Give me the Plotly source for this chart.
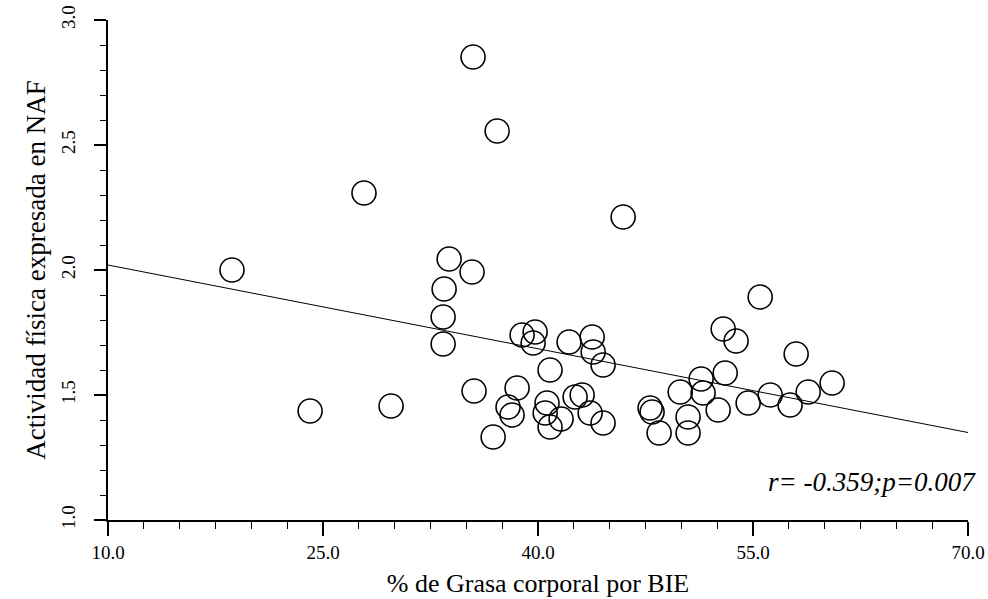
import plotly.graph_objects as go

grasa = [18.65, 24.10, 27.86, 29.75, 35.47, 37.15, 45.94, 33.80, 35.40, 33.45,
         33.38, 33.38, 35.54, 38.89, 39.80, 39.66, 38.54, 37.91, 38.19, 36.87,
         40.84, 40.63, 40.50, 40.84, 41.61, 42.17, 43.78, 43.85, 44.54, 42.59,
         43.08, 43.64, 44.54, 47.82, 47.96, 48.45, 49.92, 51.38, 51.52, 50.47,
         50.47, 52.57, 52.92, 53.06, 53.82, 55.50, 54.66, 56.20, 57.59, 58.01,
         58.85, 60.52]
naf = [2.00, 1.436, 2.308, 1.456, 2.852, 2.556, 2.212, 2.044, 1.992, 1.924,
       1.812, 1.704, 1.516, 1.740, 1.752, 1.708, 1.528, 1.452, 1.420, 1.332,
       1.600, 1.468, 1.428, 1.372, 1.404, 1.712, 1.732, 1.672, 1.620, 1.492,
       1.500, 1.428, 1.388, 1.448, 1.432, 1.348, 1.512, 1.564, 1.508, 1.412,
       1.348, 1.440, 1.764, 1.588, 1.716, 1.892, 1.468, 1.500, 1.460, 1.664,
       1.512, 1.548]

fit_x = [10.0, 70.0]
fit_y = [2.02, 1.35]

x_ticks = [10.0, 25.0, 40.0, 55.0, 70.0]
x_labels = ["10.0", "25.0", "40.0", "55.0", "70.0"]
y_ticks = [1.0, 1.5, 2.0, 2.5, 3.0]
y_labels = ["1.0", "1.5", "2.0", "2.5", "3.0"]

serif = "Liberation Serif"

fig = go.Figure()
fig.add_trace(go.Scatter(x=fit_x, y=fit_y, mode="lines",
                         line=dict(color="black", width=1), showlegend=False))
fig.add_trace(go.Scatter(x=grasa, y=naf, mode="markers",
                         marker=dict(symbol="circle-open", size=24,
                                     color="black", line=dict(width=1.6)),
                         showlegend=False))

fig.add_annotation(text="r= -0.359;p=0.007", xref="paper", yref="y",
                   x=1.012, y=1.152, xanchor="right", yanchor="middle",
                   showarrow=False,
                   font=dict(family=serif, size=27, color="black", style="italic"))

fig.update_layout(
    width=988, height=599,
    margin=dict(l=108, r=20, t=20, b=79),
    paper_bgcolor="white", plot_bgcolor="white",
    font=dict(family=serif, color="black"),
    xaxis=dict(range=[10, 70], tickvals=x_ticks, ticktext=x_labels,
               automargin=False,
               showgrid=False, zeroline=False, showline=True, linecolor="black",
               linewidth=1.5, ticks="outside", ticklen=14, tickwidth=1.5,
               tickcolor="black", tickfont=dict(size=19, family=serif),
               minor=dict(dtick=2.5, tick0=10, ticks="outside", ticklen=7,
                          tickwidth=1, tickcolor="black", showgrid=False),
               title=dict(text="% de Grasa corporal por BIE",
                          font=dict(size=26, family=serif), standoff=12)),
    yaxis=dict(range=[1, 3], tickvals=y_ticks, ticktext=y_labels,
               automargin=False,
               showgrid=False, zeroline=False, showline=True, linecolor="black",
               linewidth=1.5, ticks="outside", ticklen=12, tickwidth=1.5,
               tickcolor="black", tickangle=-90, ticklabelstandoff=12,
               tickfont=dict(size=19, family=serif),
               minor=dict(dtick=0.1, tick0=1.0, ticks="outside", ticklen=6,
                          tickwidth=1, tickcolor="black", showgrid=False),
               title=dict(text="Actividad física expresada en NAF",
                          font=dict(size=27, family=serif), standoff=4)),
)

fig.write_html("out.html")
